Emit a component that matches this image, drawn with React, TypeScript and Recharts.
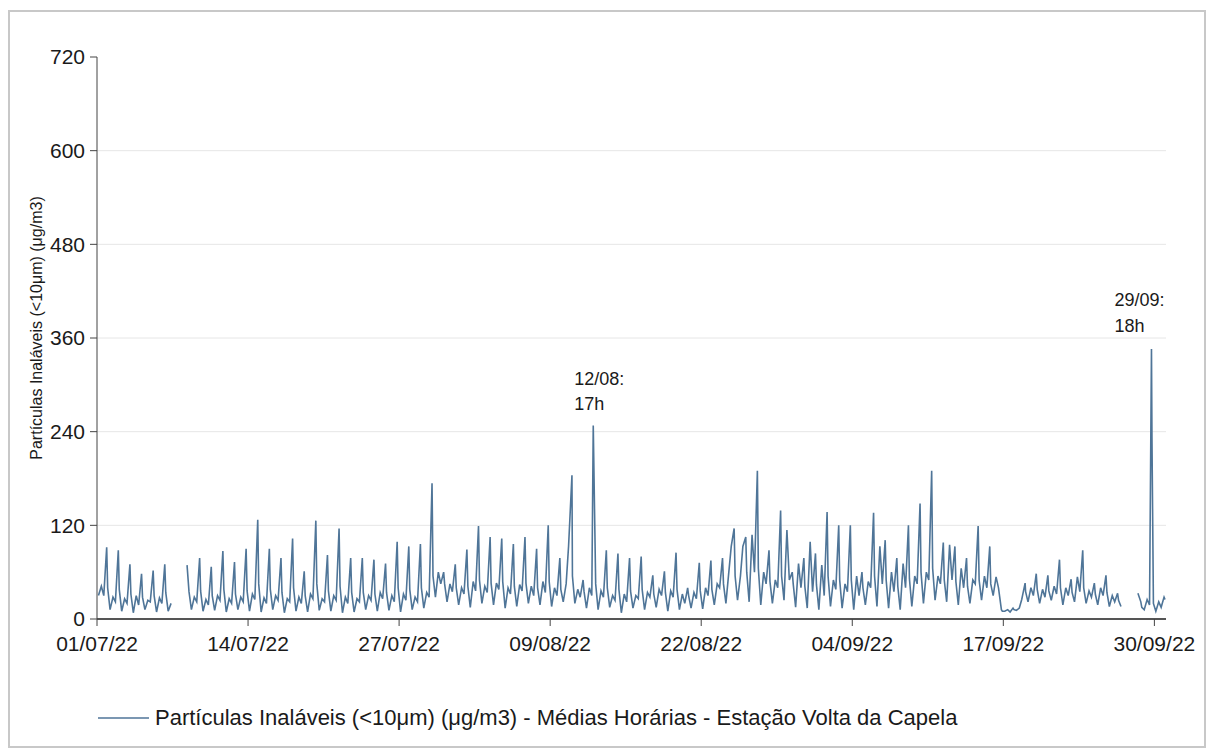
import React from "react";
import {
  LineChart,
  Line,
  XAxis,
  YAxis,
  CartesianGrid,
  Legend,
  ReferenceDot,
} from "recharts";

// ---------- DATA ----------
// One entry per day, 01/07/22 (index 0) to 30/09/22 (index 91). null = no data.
const dayLabels = ["01/07/22", "14/07/22", "27/07/22", "09/08/22", "22/08/22", "04/09/22", "17/09/22", "30/09/22"];
const dayTickIndex = [0, 13, 26, 39, 52, 65, 78, 91];

// night value (03h)
const night03: (number | null)[] = [
  30, 12, 10, 8, 12, 9, 10, null, 12, 10, 11, 9, 12, 10, 9, 12, 8, 10, 9, 11,
  10, 8, 9, 12, 10, 11, 9, 12, 14, 28, 22, 18, 15, 20, 18, 14, 16, 20, 18, 16,
  22, 20, 14, 12, 15, 8, 14, 12, 15, 10, 12, 14, 13, 18, 20, 24, 22, 18, 20, 24,
  15, 14, 12, 16, 14, 12, 18, 16, 14, 12, 16, 20, 24, 22, 18, 20, 24, 30, 10, 11,
  22, 20, 24, 18, 22, 20, 18, 16, 16, null, 12, 10,
];
// morning value (09h)
const morning09: (number | null)[] = [
  42, 28, 26, 30, 24, 27, 20, null, 28, 25, 30, 26, 28, 32, 27, 30, 26, 28, 32, 26,
  30, 28, 26, 30, 34, 30, 32, 28, 34, 60, 45, 40, 48, 42, 46, 40, 44, 42, 48, 40,
  45, 38, 40, 36, 30, 32, 30, 34, 38, 36, 32, 34, 40, 45, 60, 55, 108, 60, 50, 114,
  71, 99, 69, 50, 45, 55, 48, 93, 60, 71, 55, 60, 55, 95, 65, 50, 55, 54, 12, 14,
  40, 38, 42, 40, 54, 36, 40, 30, null, null, 25, 22,
];
// afternoon value (14h)
const afternoon14: (number | null)[] = [
  30, 22, 20, 18, 22, 20, null, null, 22, 18, 24, 20, 22, 25, 20, 24, 22, 20, 26, 22,
  24, 20, 22, 24, 26, 22, 24, 22, 28, 45, 35, 32, 36, 34, 38, 32, 36, 30, 34, 30,
  93, 28, 30, 28, 24, 22, 26, 28, 30, 28, 20, 26, 30, 40, 93, 93, 60, 45, 40, 50,
  40, 35, 30, 38, 35, 30, 40, 45, 35, 40, 45, 50, 45, 50, 40, 45, 40, 40, 9, 25,
  30, 28, 32, 30, 35, 28, 30, 22, null, 33, 18, 15,
];
// evening peak value
const peakValue: (number | null)[] = [
  92, 88, 70, 58, 62, 70, null, 69, 78, 67, 87, 73, 90, 127, 90, 78, 103, 61, 126, 82,
  116, 78, 78, 76, 71, 99, 93, 96, 174, 60, 70, 89, 119, 105, 103, 96, 105, 90, 120, 78,
  184, 50, 248, 88, 84, 78, 80, 56, 61, 85, 40, 72, 75, 78, 116, 105, 190, 88, 139, 60,
  78, 84, 137, 120, 120, 60, 136, 101, 78, 120, 148, 190, 98, 93, 78, 119, 93, 12, 14, 46,
  58, 56, 76, 51, 88, 46, 56, 33, null, 22, 346, 28,
];
// hour of the evening peak (20h unless listed)
const peakHourOverride: Record<number, number> = { 7: 18, 40: 21, 42: 17, 79: 21, 90: 18 };
// late value (22h)
const late22: (number | null)[] = [
  40, 38, 32, 28, 30, 34, null, 35, 36, 30, 38, 32, 36, 45, 38, 34, 40, 30, 45, 36,
  42, 34, 34, 32, 34, 40, 38, 40, 55, 45, 40, 42, 50, 46, 48, 42, 46, 40, 48, 38,
  55, 35, 45, 40, 38, 36, 38, 32, 34, 38, 30, 36, 38, 45, 55, 60, 65, 48, 55, 45,
  42, 44, 55, 50, 50, 40, 55, 50, 42, 52, 60, 65, 50, 48, 42, 50, 45, 10, 12, 35,
  38, 36, 40, 34, 40, 32, 34, 24, null, 15, 20, 25,
];
// single extra hourly reading
const extraDay = [90];
const extraHour = [19];
const extraValue = [233];

// annotations
const noteDay = [42, 90];
const noteHour = [17, 18];
const noteValue = [248, 346];
const noteLine1 = ["12/08:", "29/09:"];
const noteLine2 = ["17h", "18h"];

const yTicks = [0, 120, 240, 360, 480, 600, 720];
const seriesName =
  "Partículas Inaláveis (<10μm) (μg/m3) - Médias Horárias - Estação Volta da Capela";
const yAxisTitle = "Partículas Inaláveis (<10μm) (μg/m3)";

// ---------- build chart table ----------
type Row = { t: number; v: number | null };
const rows: Row[] = [];
for (let d = 0; d < night03.length; d++) {
  const base = d * 24;
  rows.push({ t: base + 3, v: night03[d] });
  rows.push({ t: base + 9, v: morning09[d] });
  rows.push({ t: base + 14, v: afternoon14[d] });
  rows.push({ t: base + (peakHourOverride[d] ?? 20), v: peakValue[d] });
  extraDay.forEach((ed, i) => {
    if (ed === d) rows.push({ t: base + extraHour[i], v: extraValue[i] });
  });
  rows.push({ t: base + 22, v: late22[d] });
}
rows.sort((a, b) => a.t - b.t);

const xTicks = dayTickIndex.map((d) => d * 24);
const tickLabel = (t: number) => dayLabels[dayTickIndex.indexOf(t / 24)] ?? "";

// ---------- style ----------
const FONT = "'Liberation Sans', Arial, Helvetica, sans-serif";
const LINE_COLOR = "#4f7598";
const noteOffsets = [
  { dx: -19, dy1: -46, dy2: -21 },
  { dx: -37, dy1: -49, dy2: -23 },
];

const NoteLabel = (i: number) => (props: any) => {
  const vb = props.viewBox || {};
  const cx = vb.x + (vb.width || 0) / 2;
  const cy = vb.y + (vb.height || 0) / 2;
  const o = noteOffsets[i];
  return (
    <g>
      <text x={cx + o.dx} y={cy + o.dy1} dominantBaseline="central" fontFamily={FONT} fontSize={18} fill="#1a1a1a">
        {noteLine1[i]}
      </text>
      <text x={cx + o.dx} y={cy + o.dy2} dominantBaseline="central" fontFamily={FONT} fontSize={18} fill="#1a1a1a">
        {noteLine2[i]}
      </text>
    </g>
  );
};

const YTitle = (props: any) => {
  const vb = props.viewBox || { x: 0, y: 0, width: 0, height: 0 };
  const x = 28;
  const y = vb.y + vb.height / 2 - 10;
  return (
    <text
      x={x}
      y={y}
      transform={`rotate(-90, ${x}, ${y})`}
      textAnchor="middle"
      dominantBaseline="central"
      fontFamily={FONT}
      fontSize={16}
      fill="#1a1a1a"
    >
      {yAxisTitle}
    </text>
  );
};

const LegendContent = () => (
  <div style={{ display: "flex", alignItems: "center", fontFamily: FONT, fontSize: 22, color: "#1a1a1a", whiteSpace: "nowrap" }}>
    <svg width={51} height={4} style={{ display: "block" }}>
      <line x1={0} y1={2} x2={51} y2={2} stroke={LINE_COLOR} strokeWidth={1.6} />
    </svg>
    <span style={{ marginLeft: 6 }}>{seriesName}</span>
  </div>
);

export default function App() {
  return (
    <div style={{ position: "relative", width: 1198, height: 740, background: "#fff" }}>
      <div
        style={{
          position: "absolute",
          left: 0,
          top: 2,
          width: 1198,
          height: 738,
          border: "2px solid #c8c8c8",
          boxSizing: "border-box",
        }}
      />
      <div style={{ position: "absolute", left: 0, top: 0 }}>
        <LineChart width={1198} height={740} data={rows} margin={{ top: 49, right: 40, left: 0, bottom: 89 }}>
          <CartesianGrid vertical={false} horizontalValues={[120, 240, 360, 480, 600]} stroke="#e6e6e6" strokeWidth={1} />
          <XAxis
            dataKey="t"
            type="number"
            domain={[0, 2208]}
            ticks={xTicks}
            tickFormatter={tickLabel}
            interval={0}
            height={40}
            tickSize={7}
            tickMargin={10}
            axisLine={{ stroke: "#555", strokeWidth: 2 }}
            tickLine={{ stroke: "#444", strokeWidth: 1 }}
            tick={{ fontFamily: FONT, fontSize: 21, fill: "#1a1a1a" }}
            allowDataOverflow
          />
          <YAxis
            type="number"
            domain={[0, 720]}
            ticks={yTicks}
            interval={0}
            width={89}
            tickSize={7}
            tickMargin={5}
            axisLine={{ stroke: "#444", strokeWidth: 1 }}
            tickLine={{ stroke: "#444", strokeWidth: 1 }}
            tick={{ fontFamily: FONT, fontSize: 21, fill: "#1a1a1a" }}
            label={{ content: YTitle }}
          />
          <Legend
            layout="horizontal"
            verticalAlign="middle"
            align="center"
            wrapperStyle={{ top: 697, left: 90, width: "auto", height: "auto" }}
            content={LegendContent}
          />
          <Line
            type="linear"
            dataKey="v"
            name={seriesName}
            stroke={LINE_COLOR}
            strokeWidth={1.6}
            dot={false}
            activeDot={false}
            connectNulls={false}
            isAnimationActive={false}
          />
          {noteDay.map((d, i) => (
            <ReferenceDot
              key={i}
              x={d * 24 + noteHour[i]}
              y={noteValue[i]}
              r={0}
              fill="none"
              stroke="none"
              label={{ content: NoteLabel(i) }}
              ifOverflow="visible"
            />
          ))}
        </LineChart>
      </div>
    </div>
  );
}
